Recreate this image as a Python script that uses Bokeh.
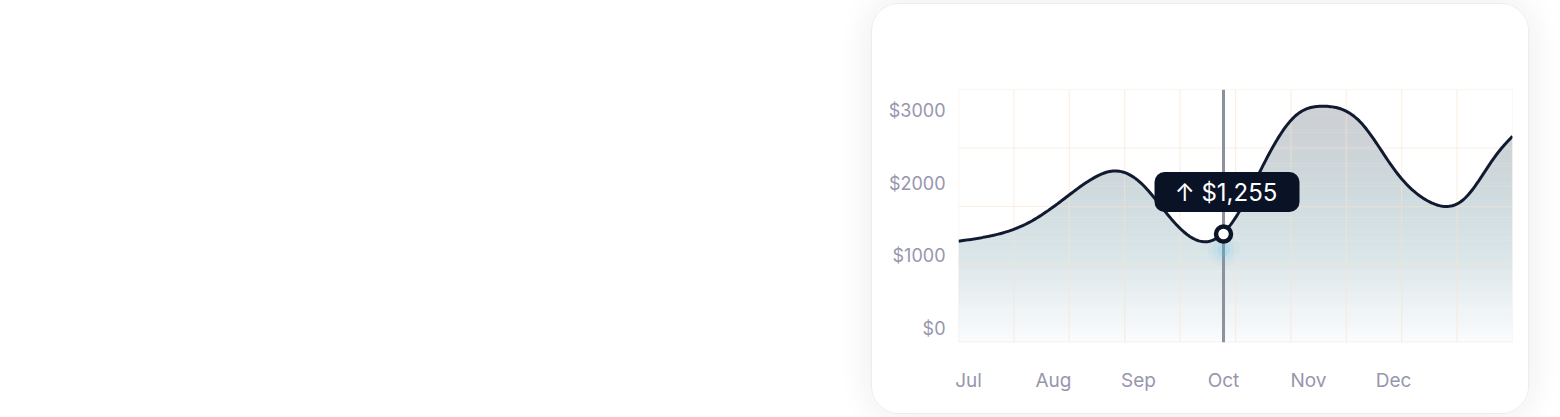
import numpy as np
from bokeh.plotting import figure
from bokeh.models import FixedTicker, BoxAnnotation, Label, Spacer, Range1d
from bokeh.layouts import row, column
from bokeh.embed import file_html
from bokeh.resources import INLINE

# ---------------- data ----------------
months = ["Jul", "Aug", "Sep", "Oct", "Nov", "Dec"]
month_pos = [0, 1, 2, 3, 4, 5]
y_ticks = [0, 1000, 2000, 3000]
y_tick_labels = ["$0", "$1000", "$2000", "$3000"]

# revenue curve (month position, value in $)
curve_month = [-0.118, 0.241, 0.665, 1.088, 1.512, 1.682, 2.012, 2.359, 2.571,
               2.850, 3.165, 3.435, 3.841, 4.176, 4.600, 5.024, 5.447, 5.824,
               6.212, 6.400]
curve_value = [1201, 1270, 1431, 1752, 2096, 2165, 2019, 1545, 1294,
               1205, 1569, 2174, 2921, 3059, 2853, 2165, 1730, 1775,
               2394, 2646]

hover_month = [3]
hover_value = [1300]
hover_label = "$1,255"

# ---------------- layout constants ----------------
X0, X1 = -0.118, 6.4
Y0, Y1 = -193, 3289
FRAME_W, FRAME_H = 554, 253
px_x = (X1 - X0) / FRAME_W
px_y = (Y1 - Y0) / FRAME_H

NAVY = "#111a30"
LABEL = "#9896ae"


def natural_spline(xs, ys, n=20):
    """Smooth (C2) natural cubic spline drawn through the read points."""
    x = np.asarray(xs, float)
    y = np.asarray(ys, float)
    k = len(x)
    h = np.diff(x)
    A = np.zeros((k, k))
    r = np.zeros(k)
    A[0, 0] = A[-1, -1] = 1.0
    for i in range(1, k - 1):
        A[i, i - 1] = h[i - 1]
        A[i, i] = 2 * (h[i - 1] + h[i])
        A[i, i + 1] = h[i]
        r[i] = 3 * ((y[i + 1] - y[i]) / h[i] - (y[i] - y[i - 1]) / h[i - 1])
    c = np.linalg.solve(A, r)
    X, Y = [], []
    for i in range(k - 1):
        b = (y[i + 1] - y[i]) / h[i] - h[i] * (2 * c[i] + c[i + 1]) / 3
        d = (c[i + 1] - c[i]) / (3 * h[i])
        dt = np.linspace(0, h[i], n, endpoint=False)
        X.append(x[i] + dt)
        Y.append(y[i] + b * dt + c[i] * dt ** 2 + d * dt ** 3)
    X.append([x[-1]])
    Y.append([y[-1]])
    return np.concatenate(X), np.concatenate(Y)


sx, sy = natural_spline(curve_month, curve_value)

p = figure(width=658, height=411, x_range=Range1d(X0, X1), y_range=Range1d(Y0, Y1),
           output_backend="svg", toolbar_location=None,
           min_border_left=86, min_border_right=18, min_border_top=85, min_border_bottom=73)
p.outline_line_color = None
p.background_fill_color = "white"
p.border_fill_color = "white"
p.xgrid.visible = False
p.ygrid.visible = False
p.styles = {"border": "1px solid #ececf1", "border-radius": "28px", "overflow": "hidden",
            "box-shadow": "0 0 34px rgba(30,30,60,0.09)"}

# gradient fill (horizontal bands under the curve)
stops_v = [-200, 400, 1000, 1800, 2500, 3300]
stops_c = np.array([[251, 252, 253], [235, 241, 243], [218, 229, 232],
                    [207, 219, 222], [205, 211, 215], [205, 206, 211]], float)
edges = np.linspace(Y0, Y1, 90)
ov = 6
for a, b in zip(edges[:-1], edges[1:]):
    mid = 0.5 * (a + b)
    col = [int(round(np.interp(mid, stops_v, stops_c[:, k]))) for k in range(3)]
    color = "#%02x%02x%02x" % tuple(col)
    p.varea(x=sx, y1=np.full_like(sx, a - ov), y2=np.clip(sy, a - ov, b),
            fill_color=color, fill_alpha=1.0)

# faint grid
vx = np.linspace(X0, X1, 11)
p.segment(x0=vx, y0=np.full(11, Y0), x1=vx, y1=np.full(11, Y1),
          line_color="#f8e4cf", line_alpha=0.55, line_width=1.2)
hy = [Y1 - k * 58.5 * px_y for k in range(4)] + [Y0 + 0.5 * px_y]
p.segment(x0=np.full(len(hy), X0), y0=hy, x1=np.full(len(hy), X1), y1=hy,
          line_color="#f8e4cf", line_alpha=0.55, line_width=1.2)

# cursor line
p.segment(x0=hover_month, y0=[Y0], x1=hover_month, y1=[Y1], line_color="#8d909d", line_width=3)

# glow
for s, a in [(32, 0.05), (22, 0.09), (13, 0.13)]:
    p.scatter(x=hover_month, y=[hover_value[0] - 220], size=s, color="#57c3f0",
              alpha=a, line_color=None)

# curve
p.line(sx, sy, line_color=NAVY, line_width=3)

# marker
p.scatter(x=hover_month, y=hover_value, size=15, fill_color="white", line_color="#0c1428",
          line_width=4.5)

# tooltip
hx = hover_month[0]
hv = hover_value[0]
box = BoxAnnotation(left=hx - 69 * px_x, right=hx + 76 * px_x,
                    bottom=hv + 22 * px_y, top=hv + 62 * px_y,
                    fill_color="#0a1226", fill_alpha=1.0, line_color=None, border_radius=10,
                    level="annotation")
p.add_layout(box)
lab = Label(x=hx + 2.5 * px_x, y=hv + 42 * px_y, text="\u2191 " + hover_label,
            text_align="center", text_baseline="middle", text_color="white",
            text_font="Inter", text_font_size="24px")
p.add_layout(lab)

# axes
p.xaxis.ticker = FixedTicker(ticks=month_pos)
p.xaxis.major_label_overrides = {m: t for m, t in zip(month_pos, months)}
p.yaxis.ticker = FixedTicker(ticks=y_ticks)
p.yaxis.major_label_overrides = {v: t for v, t in zip(y_ticks, y_tick_labels)}
for ax in (p.xaxis[0], p.yaxis[0]):
    ax.axis_line_color = None
    ax.major_tick_line_color = None
    ax.minor_tick_line_color = None
    ax.major_tick_out = 0
    ax.major_tick_in = 0
    ax.minor_tick_out = 0
    ax.major_label_text_font = "Inter"
    ax.major_label_text_color = LABEL
p.xaxis.major_label_text_font_size = "19px"
p.yaxis.major_label_text_font_size = "18px"
p.xaxis.major_label_standoff = 26
p.yaxis.major_label_standoff = 13

layout = column(Spacer(width=10, height=3), row(Spacer(width=871, height=411), p))
open("out.html", "w").write(file_html(layout, INLINE))
